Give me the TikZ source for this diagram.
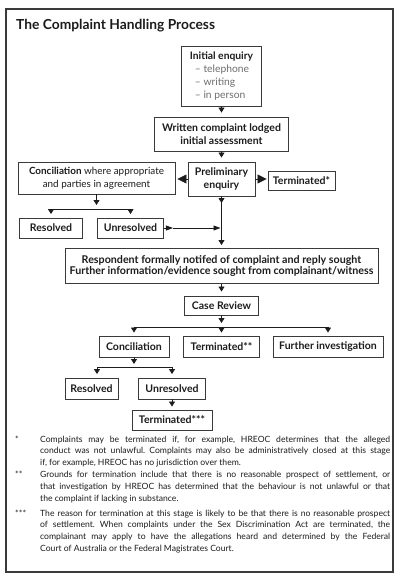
\documentclass[tikz,border=0pt]{standalone}
\usepackage{fontspec}
\setmainfont{Lato}
\usetikzlibrary{arrows.meta}
\definecolor{ink}{HTML}{1C1C1C}
\definecolor{frame}{HTML}{3A3A3A}
\definecolor{soft}{HTML}{6E6E6E}
\frenchspacing
\begin{document}
\begin{tikzpicture}[x=1pt,y=-1pt,
  box/.style={draw=frame, line width=0.9pt, inner sep=0pt, align=center, text=ink,
    font=\fontsize{10.5}{12.5}\selectfont\bfseries},
  tri/.style={draw=ink, line width=0.8pt, -{Triangle[width=6pt,length=5pt]}},
  bigtri/.style={draw=ink, line width=0.8pt, -{Triangle[width=9pt,length=9pt]}},
  bar/.style={draw=ink, line width=0.9pt},
  note/.style={anchor=north west, inner sep=0pt, text=ink, text width=350pt, align=justify,
    font=\fontsize{8.6}{11.9}\selectfont},
  notemark/.style={anchor=north west, inner sep=0pt, text=ink, font=\fontsize{8.6}{11.9}\selectfont}]
\useasboundingbox (0,0) rectangle (400,578);
\fill[white] (0,0) rectangle (400,578);
\draw[frame, line width=1.3pt] (6,9) rectangle (393,572);
\node[anchor=base west, inner sep=0pt, text=ink, font=\fontsize{13.8}{16}\selectfont\bfseries] (title) at (16,30) {The Complaint Handling Process};

% boxes
\node[box, minimum width=80pt, minimum height=60pt, align=left, font=\fontsize{10.3}{13}\selectfont\bfseries] (init) at (221.5,76)
  {Initial enquiry\\
   {\mdseries\color{soft}\hspace*{5pt}– telephone}\\
   {\mdseries\color{soft}\hspace*{5pt}– writing}\\
   {\mdseries\color{soft}\hspace*{5pt}– in person}};
\node[box, minimum width=134pt, minimum height=34pt] (written) at (221.5,134) {Written complaint lodged\\initial assessment};
\node[box, minimum width=67pt, minimum height=34pt] (prelim) at (221.5,179) {Preliminary\\enquiry};
\node[box, minimum width=157pt, minimum height=32pt, font=\fontsize{9.9}{12.5}\selectfont] (conc1) at (96.5,178)
  {\textbf{Conciliation} where appropriate\\and parties in agreement};
\node[box, minimum width=67pt, minimum height=19pt] (term1) at (301.5,180.5) {Terminated*};
\node[box, minimum width=63pt, minimum height=20pt] (res1) at (51,228) {Resolved};
\node[box, minimum width=66pt, minimum height=20pt] (unres1) at (130.5,228) {Unresolved};
\node[box, minimum width=313pt, minimum height=35pt, font=\fontsize{10.7}{11.8}\selectfont\bfseries] (resp) at (221.5,266)
  {Respondent formally notifed of complaint and reply sought\\Further information/evidence sought from complainant/witness};
\node[box, minimum width=74pt, minimum height=19pt] (case) at (221.5,305.5) {Case Review};
\node[box, minimum width=70pt, minimum height=21pt] (conc2) at (134,346.5) {Conciliation};
\node[box, minimum width=76pt, minimum height=21pt] (term2) at (221.5,346.5) {Terminated**};
\node[box, minimum width=110pt, minimum height=21pt] (further) at (328,346.5) {Further investigation};
\node[box, minimum width=53pt, minimum height=21pt] (res2) at (91.5,388.5) {Resolved};
\node[box, minimum width=67pt, minimum height=21pt] (unres2) at (172,388.5) {Unresolved};
\node[box, minimum width=80pt, minimum height=20pt] (term3) at (172,420) {Terminated***};

% junction coordinates
\coordinate (b1l) at (51,209);
\coordinate (b1r) at (130.5,209);
\coordinate (b2l) at (134,327);
\coordinate (b2r) at (328,327);
\coordinate (b3l) at (97,367);
\coordinate (b3r) at (172,367);
\coordinate (pj) at (221.5,203);
\coordinate (um) at (prelim.south |- unres1.east);
\coordinate (us) at ([xshift=9pt]unres1.east);

% connectors
\draw[tri, shorten >=4pt] (init.south) -- (written.north);
\draw[tri, shorten >=4pt] (written.south) -- (prelim.north);
\draw[bigtri, shorten >=2pt] (prelim.west) -- (prelim.west -| conc1.east);
\draw[bigtri, shorten >=1pt] (prelim.east) -- (prelim.east -| term1.west);
\draw[tri, shorten >=3pt] (prelim.south) -- (resp.north);
\draw[tri] (prelim.south) -- (pj);
\draw[tri, shorten >=4pt] (conc1.south) -- (conc1.south |- b1l);
\draw[bar] (b1l) -- (b1r);
\draw[tri, shorten >=3.5pt] (b1l) -- (res1.north);
\draw[tri, shorten >=3.5pt] (b1r) -- (unres1.north);
\draw[tri, -{Triangle[width=5pt,length=7pt]}] (unres1.east) -- (us);
\draw[tri, -{Triangle[width=5pt,length=7pt]}, shorten >=1pt] (us) -- (um);
\draw[tri, shorten >=4pt] (resp.south) -- (case.north);
\draw[tri, shorten >=4pt] (case.south) -- (case.south |- b2l);
\draw[bar] (b2l) -- (b2r);
\draw[tri, shorten >=3pt] (b2l) -- (conc2.north);
\draw[tri, shorten >=3pt] (term2.north |- b2l) -- (term2.north);
\draw[tri, shorten >=3pt] (b2r) -- (further.north);
\draw[tri, shorten >=3pt] (conc2.south) -- (conc2.south |- b3l);
\draw[bar] (b3l) -- (b3r);
\draw[tri, shorten >=3.5pt] (b3l) -- (b3l |- res2.north);
\draw[tri, shorten >=3.5pt] (b3r) -- (unres2.north);
\draw[tri, shorten >=3pt] (unres2.south) -- (term3.north);

% footnotes
\node[notemark] (m1) at (15,435.5) {*};
\node[note] (n1) at (40,435.5) {Complaints may be terminated if, for example, HREOC determines that the alleged\linebreak
conduct was not unlawful. Complaints may also be administratively closed at this stage\linebreak
if, for example, HREOC has no jurisdiction over them.};
\node[notemark] (m2) at (15,471) {**};
\node[note] (n2) at (40,471) {Grounds for termination include that there is no reasonable prospect of settlement, or\linebreak
that investigation by HREOC has determined that the behaviour is not unlawful or that\linebreak
the complaint if lacking in substance.};
\node[notemark] (m3) at (15,509.5) {***};
\node[note] (n3) at (40,509.5) {The reason for termination at this stage is likely to be that there is no reasonable prospect\linebreak
of settlement. When complaints under the Sex Discrimination Act are terminated, the\linebreak
complainant may apply to have the allegations heard and determined by the Federal\linebreak
Court of Australia or the Federal Magistrates Court.};
\end{tikzpicture}
\end{document}
